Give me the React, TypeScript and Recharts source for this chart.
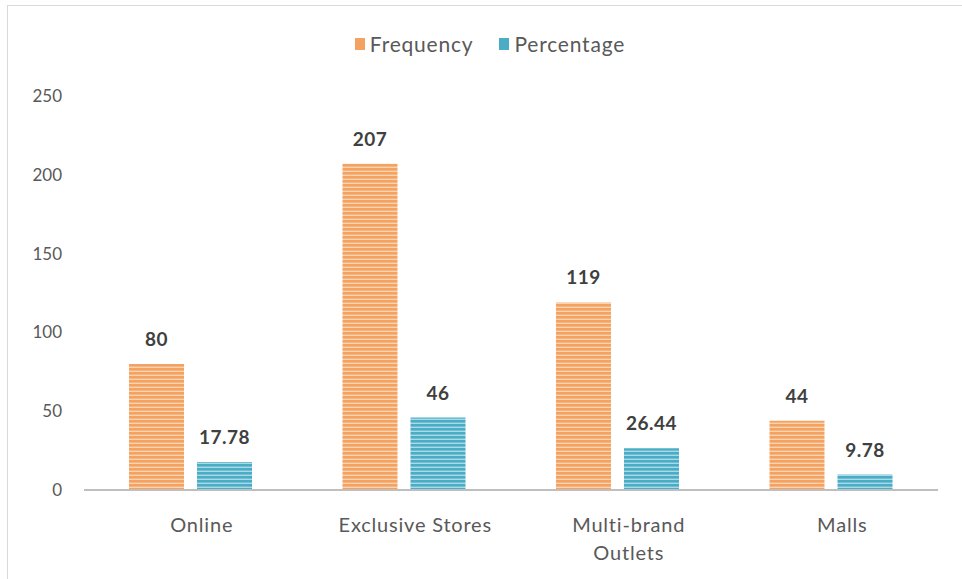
import { BarChart, Bar, XAxis, YAxis, Legend, LabelList } from 'recharts'

const categories = ['Online', 'Exclusive Stores', 'Multi-brand Outlets', 'Malls']
const frequency = [80, 207, 119, 44]
const percentage = [17.78, 46, 26.44, 9.78]
const yTicks = [0, 50, 100, 150, 200, 250]

const data = categories.map((name, i) => ({
    name,
    frequency: frequency[i],
    percentage: percentage[i],
}))

const FONT = 'Lato, "Liberation Sans", sans-serif'

// break a label into lines of at most maxChars characters, on spaces
const wrapLabel = (label: string, maxChars: number) => {
    const lines: string[] = []
    let current = ''
    label.split(' ').forEach((word) => {
        const next = current ? `${current} ${word}` : word
        if (next.length > maxChars && current) {
            lines.push(current)
            current = word
        } else {
            current = next
        }
    })
    if (current) lines.push(current)
    return lines
}

// category labels sit a little right of their bar pair
const CategoryTick = ({ x, y, payload }: any) => {
    const lines = wrapLabel(String(payload.value), 16)
    return (
        <text
            x={x + 11}
            y={y + 34}
            textAnchor="middle"
            fill="#595959"
            fontSize={20}
            fontFamily={FONT}
            style={{ letterSpacing: 0.8 }}
        >
            {lines.map((line, i) => (
                <tspan key={line} x={x + 11} dy={i === 0 ? 0 : 28}>
                    {line}
                </tspan>
            ))}
        </text>
    )
}

const LegendContent = () => (
    <div style={{ display: 'flex', justifyContent: 'center', gap: 26, fontFamily: FONT, fontSize: 21, letterSpacing: 0.8, color: '#595959', lineHeight: '25px' }}>
        {[
            { label: 'Frequency', color: '#F4A261' },
            { label: 'Percentage', color: '#4BACC6' },
        ].map((item) => (
            <div key={item.label} style={{ display: 'flex', alignItems: 'center', gap: 5 }}>
                <span style={{ width: 10, height: 12, background: item.color, display: 'inline-block' }} />
                <span>{item.label}</span>
            </div>
        ))}
    </div>
)

export default function App() {
    return (
        <div style={{ position: 'fixed', left: 0, top: 0, width: 962, height: 579, background: '#fff', overflow: 'hidden' }}>
            <div
                style={{
                    position: 'absolute',
                    left: 7,
                    top: 5,
                    width: 980,
                    height: 600,
                    border: '1px solid #D9D9D9',
                }}
            />
            <div style={{ position: 'absolute', left: 0, top: 0 }}>
                <BarChart
                    width={962}
                    height={579}
                    data={data}
                    margin={{ top: 71, right: 24, bottom: 29, left: 0 }}
                    barGap={13}
                    barSize={55}
                >
                    <defs>
                        <pattern id="stripeOrange" width="8" height="4" patternUnits="userSpaceOnUse">
                            <rect width="8" height="4" fill="#F4A261" />
                            <rect y="2.6" width="8" height="1.4" fill="#FBD3AE" />
                        </pattern>
                        <pattern id="stripeBlue" width="8" height="4" patternUnits="userSpaceOnUse">
                            <rect width="8" height="4" fill="#4BACC6" />
                            <rect y="2.6" width="8" height="1.4" fill="#A9DAE8" />
                        </pattern>
                    </defs>
                    <Legend
                        verticalAlign="top"
                        align="center"
                        content={<LegendContent />}
                        wrapperStyle={{ top: 31, left: 21 }}
                    />
                    <XAxis
                        dataKey="name"
                        height={60}
                        axisLine={{ stroke: '#BFBFBF', strokeWidth: 2 }}
                        tickLine={false}
                        tick={<CategoryTick />}
                        interval={0}
                    />
                    <YAxis
                        width={84}
                        domain={[0, 250]}
                        ticks={yTicks}
                        axisLine={false}
                        tickLine={false}
                        tickSize={0}
                        tickMargin={22}
                        tick={{ fill: '#595959', fontSize: 17, fontFamily: FONT }}
                    />
                    <Bar dataKey="frequency" name="Frequency" fill="url(#stripeOrange)" isAnimationActive={false}>
                        <LabelList
                            dataKey="frequency"
                            position="top"
                            offset={18}
                            fill="#404040"
                            fontSize={19}
                            fontWeight={700}
                            fontFamily={FONT}
                            style={{ letterSpacing: 0.5 }}
                        />
                    </Bar>
                    <Bar dataKey="percentage" name="Percentage" fill="url(#stripeBlue)" isAnimationActive={false}>
                        <LabelList
                            dataKey="percentage"
                            position="top"
                            offset={18}
                            fill="#404040"
                            fontSize={19}
                            fontWeight={700}
                            fontFamily={FONT}
                            style={{ letterSpacing: 0.5 }}
                        />
                    </Bar>
                </BarChart>
            </div>
        </div>
    )
}
